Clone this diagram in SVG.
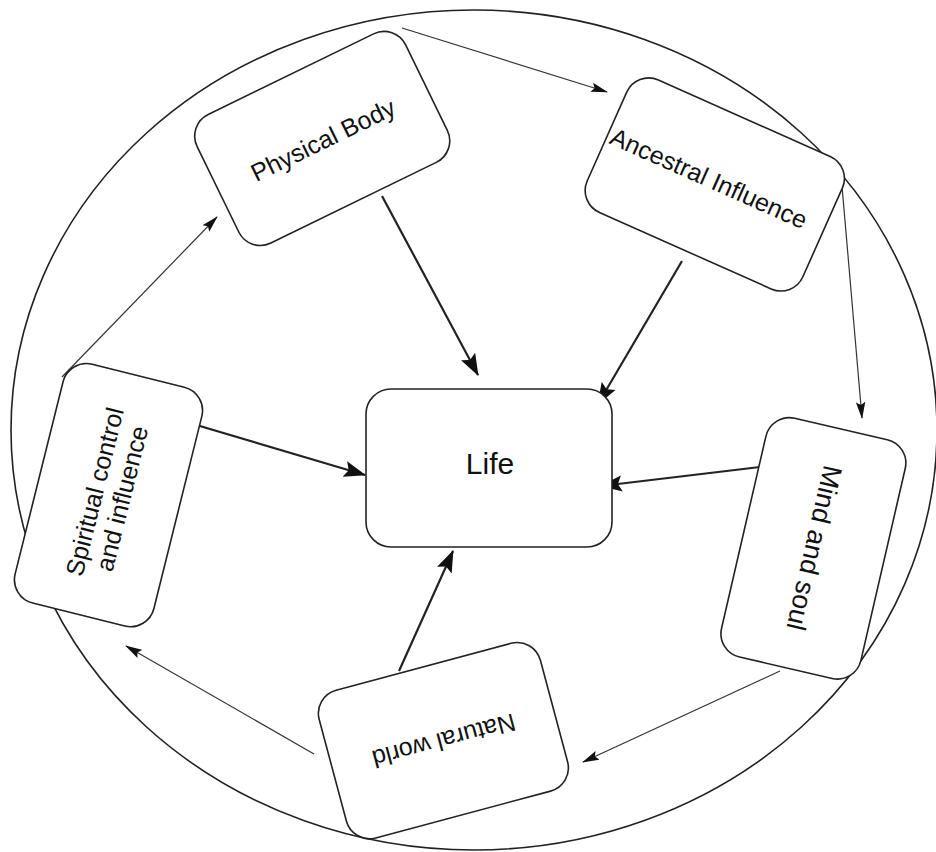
<svg xmlns="http://www.w3.org/2000/svg" width="936" height="852" viewBox="0 0 936 852">
<style>
.bg{fill:#ffffff}
.ring{fill:none;stroke:#222;stroke-width:1.6}
.box{fill:#ffffff;stroke:#222;stroke-width:1.6}
.lbl{font-family:"Liberation Sans",Arial,sans-serif;font-size:25px;fill:#111;text-anchor:middle;dominant-baseline:central}
.thick{stroke:#222;stroke-width:2.2;fill:none;marker-end:url(#ah)}
.thin{stroke:#333;stroke-width:1.2;fill:none;marker-end:url(#ahs)}
</style>
<defs>
<marker id="ah" markerUnits="userSpaceOnUse" markerWidth="22" markerHeight="18" viewBox="0 0 22 18" refX="21" refY="9" orient="auto"><path d="M0,1 L22,9 L0,17 L4,9 z" fill="#111"/></marker>
<marker id="ahs" markerUnits="userSpaceOnUse" markerWidth="17" markerHeight="11" viewBox="0 0 17 11" refX="16" refY="5.5" orient="auto"><path d="M0,0.8 L17,5.5 L0,10.2 L3,5.5 z" fill="#111"/></marker>
</defs>
<rect class="bg" x="0" y="0" width="936" height="852"/>
<ellipse class="ring" cx="474" cy="430" rx="463" ry="420"/>

<g id="connectors">
<line class="thick" x1="382" y1="196" x2="478" y2="375"/>
<line class="thick" x1="682" y1="261" x2="598" y2="404"/>
<line class="thick" x1="760" y1="467" x2="601" y2="486"/>
<line class="thick" x1="399" y1="671" x2="453" y2="551"/>
<line class="thick" x1="166" y1="416" x2="365" y2="475"/>
<line class="thin" x1="402" y1="28" x2="607" y2="92"/>
<line class="thin" x1="842" y1="186" x2="862" y2="418"/>
<line class="thin" x1="780" y1="671" x2="583" y2="762"/>
<line class="thin" x1="314" y1="754" x2="126" y2="646"/>
<line class="thin" x1="62" y1="377" x2="217" y2="217"/>
</g>

<g id="node-life">
<rect class="box" x="366" y="389" width="246" height="158" rx="25"/>
<text class="lbl" x="490" y="463" style="font-size:30px">Life</text>
</g>

<g id="node-physical-body" transform="translate(322,138) rotate(-26)">
<rect class="box" x="-116" y="-71" width="232" height="143" rx="24"/>
<text class="lbl" x="0" y="2">Physical Body</text>
</g>

<g id="node-ancestral-influence" transform="translate(715,184) rotate(24)">
<rect class="box" x="-118" y="-72" width="236" height="145" rx="24"/>
<text class="lbl" x="-8" y="-3">Ancestral Influence</text>
</g>

<g id="node-mind-and-soul" transform="translate(814,548) rotate(103)">
<rect class="box" x="-122" y="-71" width="245" height="143" rx="24"/>
<text class="lbl" x="0" y="0" style="font-size:27px">Mind and soul</text>
</g>

<g id="node-natural-world" transform="translate(444,741) rotate(165)">
<rect class="box" x="-114" y="-76" width="229" height="153" rx="24"/>
<text class="lbl" x="0" y="0">Natural world</text>
</g>

<g id="node-spiritual" transform="translate(108,495) rotate(-76)">
<rect class="box" x="-123" y="-71" width="246" height="143" rx="24"/>
<text class="lbl" x="0" y="-14">Spiritual control</text>
<text class="lbl" x="0" y="14">and influence</text>
</g>
</svg>
